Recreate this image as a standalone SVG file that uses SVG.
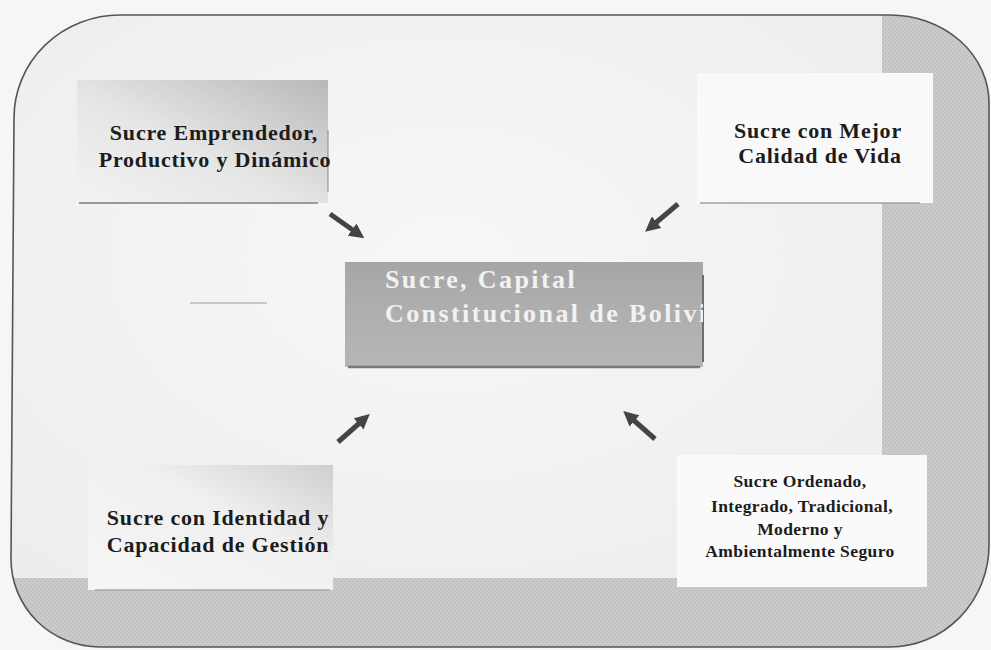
<svg xmlns="http://www.w3.org/2000/svg" width="991" height="650" viewBox="0 0 991 650">
<style>
.lbl{font-family:"Liberation Serif","Times New Roman",serif;font-weight:bold;fill:#1c1c1c;text-anchor:middle}
.big{font-size:22px;letter-spacing:0.8px}
.small{font-size:17.5px;letter-spacing:0.4px}
.ctr{font-family:"Liberation Serif","Times New Roman",serif;font-weight:bold;font-size:26px;letter-spacing:2.4px;fill:#f2f2f2}
.band{fill:url(#dots)}
.conn{stroke:#444;stroke-width:5;fill:none;marker-end:url(#ah)}
</style>
<defs>
<pattern id="dots" width="4" height="4" patternUnits="userSpaceOnUse">
<rect width="4" height="4" fill="#cbcbcb"/>
<rect width="2" height="2" fill="#c3c3c3"/>
<rect x="2" y="2" width="2" height="2" fill="#c3c3c3"/>
</pattern>
<linearGradient id="g1" x1="0" y1="1" x2="1" y2="0">
<stop offset="0" stop-color="#f2f2f2"/>
<stop offset="0.45" stop-color="#e6e6e6"/>
<stop offset="1" stop-color="#b8b8b8"/>
</linearGradient>
<linearGradient id="g3" x1="0" y1="1" x2="1" y2="0">
<stop offset="0" stop-color="#f6f6f6"/>
<stop offset="0.6" stop-color="#f0f0f0"/>
<stop offset="1" stop-color="#cfcfcf"/>
</linearGradient>
<linearGradient id="gc" x1="0" y1="0" x2="0" y2="1">
<stop offset="0" stop-color="#a6a6a6"/>
<stop offset="0.5" stop-color="#afafaf"/>
<stop offset="1" stop-color="#b6b6b6"/>
</linearGradient>
<radialGradient id="bg" cx="0.45" cy="0.4" r="0.7">
<stop offset="0" stop-color="#f7f7f7"/>
<stop offset="1" stop-color="#ececec"/>
</radialGradient>
<clipPath id="frame">
<path d="M14,118 A106,103 0 0 1 120,15 L890,15 A99,88 0 0 1 989,103 L989,545 A99,102 0 0 1 890,647 L100,647 A89,88 0 0 1 11,559 Z"/>
</clipPath>
<clipPath id="cbox"><rect x="345" y="262" width="358" height="105"/></clipPath>
<marker id="ah" viewBox="0 0 10 10" refX="4" refY="5" markerWidth="3" markerHeight="3" orient="auto" markerUnits="strokeWidth">
<path d="M0,0 L10,5 L0,10 Z" fill="#444"/>
</marker>
</defs>
<rect width="991" height="650" fill="#f6f6f6"/>
<g id="frame-bg" clip-path="url(#frame)">
<rect width="991" height="650" fill="url(#bg)"/>
<rect class="band" x="882" y="0" width="120" height="660"/>
<rect class="band" x="0" y="578" width="991" height="80"/>
<line x1="190" y1="303" x2="267" y2="303" stroke="#c8c8c8" stroke-width="2"/>
</g>
<path d="M14,118 A106,103 0 0 1 120,15 L890,15 A99,88 0 0 1 989,103 L989,545 A99,102 0 0 1 890,647 L100,647 A89,88 0 0 1 11,559 Z" fill="none" stroke="#555" stroke-width="1.6"/>
<g id="node-emprendedor">
<rect x="77" y="80" width="251" height="123" fill="url(#g1)"/>
<line x1="79" y1="203" x2="318" y2="203" stroke="#9a9a9a" stroke-width="2"/>
<line x1="328" y1="130" x2="328" y2="192" stroke="#888" stroke-width="1"/>
<text class="lbl big" x="214" y="140">Sucre Emprendedor,</text>
<text class="lbl big" x="215" y="167">Productivo y Dinámico</text>
</g>
<g id="node-mejor">
<rect x="697" y="73" width="236" height="130" fill="#f9f9f9"/>
<line x1="700" y1="203" x2="920" y2="203" stroke="#a0a0a0" stroke-width="1.5"/>
<text class="lbl big" x="818" y="138">Sucre con Mejor</text>
<text class="lbl big" x="820" y="163">Calidad de Vida</text>
</g>
<g id="node-capital">
<rect x="345" y="262" width="358" height="105" fill="url(#gc)"/>
<line x1="348" y1="367" x2="700" y2="367" stroke="#7a7a7a" stroke-width="2.5"/>
<line x1="703" y1="275" x2="703" y2="362" stroke="#6e6e6e" stroke-width="2"/>
<g clip-path="url(#cbox)">
<text class="ctr" x="385" y="288">Sucre, Capital</text>
<text class="ctr" x="385" y="322">Constitucional de Bolivia</text>
</g>
</g>
<g id="node-identidad">
<rect x="88" y="465" width="245" height="125" fill="url(#g3)"/>
<line x1="95" y1="590" x2="330" y2="590" stroke="#a8a8a8" stroke-width="1.5"/>
<text class="lbl big" x="218" y="525">Sucre con Identidad y</text>
<text class="lbl big" x="218" y="552">Capacidad de Gestión</text>
</g>
<g id="node-ordenado">
<rect x="677" y="455" width="250" height="132" fill="#fafafa"/>
<text class="lbl small" x="800" y="487">Sucre Ordenado,</text>
<text class="lbl small" x="802" y="512">Integrado, Tradicional,</text>
<text class="lbl small" x="800" y="535">Moderno y</text>
<text class="lbl small" x="800" y="557">Ambientalmente Seguro</text>
</g>
<g id="connectors">
<line class="conn" x1="330" y1="214" x2="357" y2="233"/>
<line class="conn" x1="678" y1="204" x2="652" y2="226"/>
<line class="conn" x1="338" y1="442" x2="363" y2="420"/>
<line class="conn" x1="655" y1="439" x2="630" y2="417"/>
</g>
</svg>
